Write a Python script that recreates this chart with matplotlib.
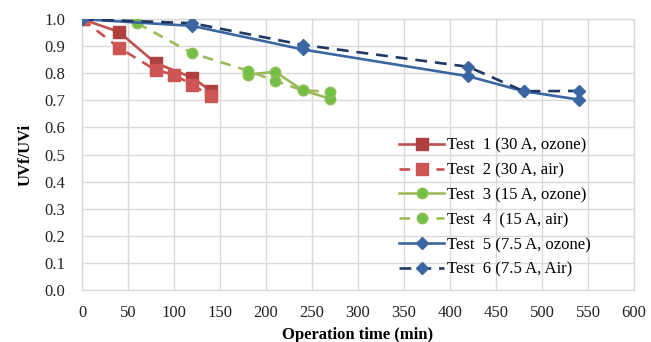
import matplotlib
matplotlib.use('Agg')
from matplotlib import pyplot as plt

plt.rcParams['font.family'] = ['Liberation Serif', 'DejaVu Serif']

# operation time (min) and UVf/UVi for each test
t1_x = [0, 40, 80, 120, 140]
t1_y = [1.0, 0.953, 0.838, 0.784, 0.735]
t2_x = [0, 40, 80, 100, 120, 140]
t2_y = [1.0, 0.895, 0.812, 0.795, 0.757, 0.716]
t3_x = [180, 210, 240, 270]
t3_y = [0.795, 0.806, 0.737, 0.706]
t4_x = [60, 120, 180, 210, 240, 270]
t4_y = [0.985, 0.874, 0.81, 0.772, 0.737, 0.732]
t5_x = [0, 120, 240, 420, 480, 540]
t5_y = [1.0, 0.975, 0.888, 0.789, 0.734, 0.703]
t6_x = [0, 120, 240, 420, 480, 540]
t6_y = [1.0, 0.985, 0.905, 0.824, 0.734, 0.735]

labels = ['Test  1 (30 A, ozone)', 'Test  2 (30 A, air)', 'Test  3 (15 A, ozone)',
          'Test  4  (15 A, air)', 'Test  5 (7.5 A, ozone)', 'Test  6 (7.5 A, Air)']

xticks = list(range(0, 601, 50))
yticks = [i / 10 for i in range(0, 11)]


def main():
    fig = plt.figure(figsize=(6.51, 3.42), dpi=100)
    ax = fig.add_axes([0.126, 0.152, 0.848, 0.792])

    ax.plot(t1_x, t1_y, color='#C0504D', lw=1.9, marker='s', ms=8.5,
            mfc='#AE403D', mec='#AE403D', label=labels[0], zorder=3)
    ax.plot(t2_x, t2_y, color='#C9504F', lw=1.9, ls=(0, (4, 3)), marker='s', ms=8.5,
            mfc='#CD5654', mec='#CD5654', label=labels[1], zorder=3)
    ax.plot(t3_x, t3_y, color='#9BBB59', lw=1.9, marker='o', ms=7.5,
            mfc='#73BF45', mec='#8DBF55', label=labels[2], zorder=3)
    ax.plot(t4_x, t4_y, color='#9BBB59', lw=1.9, ls=(0, (4, 3)), marker='o', ms=7.5,
            mfc='#73BF45', mec='#8DBF55', label=labels[3], zorder=3)
    ax.plot(t5_x, t5_y, color='#3A66A2', lw=1.9, marker='D', ms=6.5,
            mfc='#3A66A2', mec='#3A66A2', label=labels[4], zorder=4)
    ax.plot(t6_x, t6_y, color='#1F3864', lw=1.9, ls=(0, (4.5, 3)), marker='D', ms=6.5,
            mfc='#3A66A2', mec='#3A66A2', label=labels[5], zorder=4)

    ax.set_xlim(0, 600)
    ax.set_ylim(0, 1.0)
    ax.set_xticks(xticks)
    ax.set_yticks(yticks)
    ax.set_yticklabels(['%.1f' % v for v in yticks])
    ax.tick_params(length=0, labelsize=12, colors='#222222')
    ax.tick_params(axis='x', pad=11)
    ax.tick_params(axis='y', pad=12)
    ax.grid(True, color='#D9D9D9', lw=1)
    ax.set_axisbelow(True)
    for s in ax.spines.values():
        s.set_color('#D9D9D9')
        s.set_linewidth(1)

    ax.set_xlabel('Operation time (min)', fontsize=12, fontweight='bold', labelpad=4)
    ax.set_ylabel('UVf/UVi', fontsize=12, fontweight='bold', labelpad=8)

    ax.legend(loc='center left', bbox_to_anchor=(0.563, 0.304), borderaxespad=0,
              frameon=False, fontsize=12, handlelength=2.7, handletextpad=0.15,
              labelspacing=0.53)

    fig.savefig('out.png', dpi=100)


if __name__ == '__main__':
    main()
